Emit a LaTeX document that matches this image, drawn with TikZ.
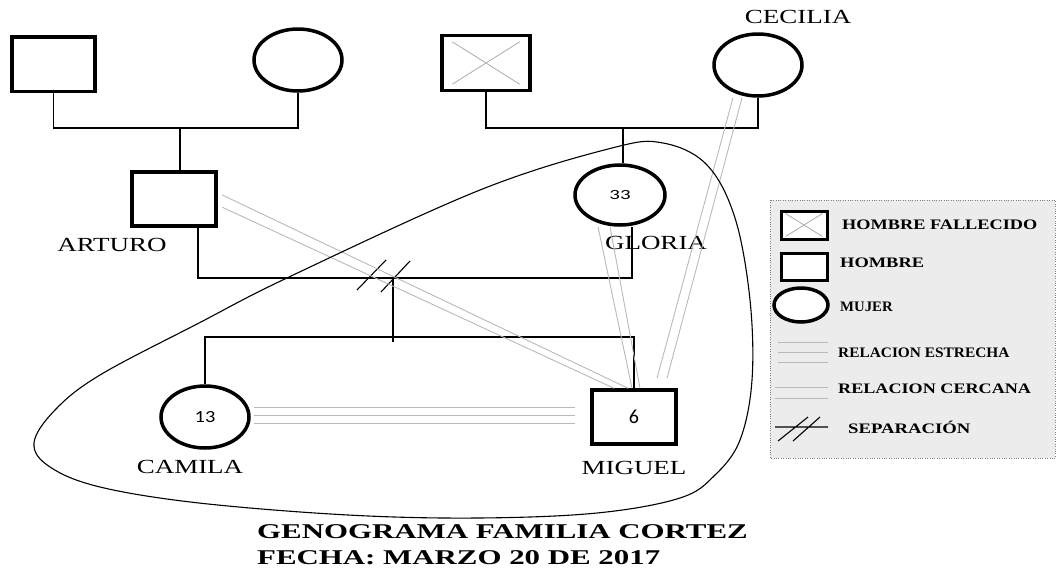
\documentclass[tikz,border=0pt]{standalone}
\usepackage{fontspec}
\usepackage{graphicx}
\setmainfont{Liberation Serif}
\newfontfamily\numfont{Carlito}
\usetikzlibrary{shapes.geometric}
\newcommand\ancho[2]{\scalebox{#1}[1]{#2}}
\begin{document}
\begin{tikzpicture}[x=1pt,y=-1pt,
		hombre/.style={draw,line width=3.5pt,minimum width=84pt,minimum height=54pt,inner sep=0pt},
		mujer/.style={draw,ellipse,line width=3.5pt,minimum width=88pt,minimum height=62pt,inner sep=0pt},
		union/.style={line width=1.1pt},
		rel/.style={gray!55,line width=0.9pt},
		nombre/.style={font=\fontsize{20}{20}\selectfont,inner sep=0pt},
		leyenda/.style={font=\fontsize{14.5}{14.5}\selectfont\bfseries,anchor=west,inner sep=0pt}]
			\useasboundingbox (0,0) rectangle (1058,573);
			% personas
			\node[hombre,minimum width=83pt,minimum height=54.5pt] (abuelo) at (53.5,64) {};
			\node[mujer] (abuela) at (298,60) {};
			\node[hombre,minimum width=88pt,minimum height=55pt] (bisabuelo) at (486,63) {};
			\node[mujer] (cecilia) at (758,65) {};
			\node[hombre] (arturo) at (174,199) {};
			\node[mujer,minimum width=90pt,minimum height=60pt] (gloria) at (620,195) {\numfont\fontsize{14}{14}\selectfont\ancho{1.5}{33}};
			\node[mujer] (camila) at (205,417) {\numfont\fontsize{17}{17}\selectfont\ancho{1.2}{13}};
			\node[hombre] (miguel) at (634,417) {\numfont\fontsize{20}{20}\selectfont 6};
			\draw[gray!60,line width=0.9pt] ([shift={(12pt,-8pt)}]bisabuelo.north west)--([shift={(-12pt,8pt)}]bisabuelo.south east)
				([shift={(12pt,8pt)}]bisabuelo.south west)--([shift={(-12pt,-8pt)}]bisabuelo.north east);
			% nombres
			\node[nombre] (n-arturo) at (112,245) {\ancho{1.35}{ARTURO}};
			\node[nombre] (n-gloria) at (656,243) {\ancho{1.35}{GLORIA}};
			\node[nombre] (n-cecilia) at (798,17) {\ancho{1.35}{CECILIA}};
			\node[nombre] (n-camila) at (190,467) {\ancho{1.35}{CAMILA}};
			\node[nombre] (n-miguel) at (634,468) {\ancho{1.35}{MIGUEL}};
			% uniones
			\coordinate (u1) at (180,128); \coordinate (u2) at (623,128);
			\coordinate (u3) at (198,278); \coordinate (u4) at (632,278); \coordinate (u6) at (393,278);
			\coordinate (h2) at (634,337);
			\draw[union] (abuelo.south) |- (u1) -| (abuela.south);
			\draw[union] (u1) -- (u1 |- arturo.north);
			\draw[union] (bisabuelo.south) |- (u2) -| (cecilia.south);
			\draw[union] (u2) -- (u2 |- gloria.north);
			\draw[union] (u3 |- arturo.south) -- (u3) -- (u4) -- (u4 |- gloria.south);
			\draw[union] (u6) -- ++(0,64);
			\draw[union] (camila.north) |- (h2) -- (miguel.north);
			\draw[union] (357,290)--(386,260) (381,292)--(410,261);
			% relaciones
			\draw[rel,shorten <=5pt] (arturo.8) -- ([xshift=-6pt]miguel.north);
			\draw[rel,shorten <=5pt] (arturo.-8) -- ([xshift=-20pt]miguel.north);
			\draw[rel] ([xshift=-22pt]gloria.south) -- ([xshift=-2pt]miguel.north);
			\draw[rel] ([xshift=-10pt]gloria.south) -- ([xshift=6pt]miguel.north);
			\draw[rel] ([xshift=-25pt]cecilia.south) -- ([xshift=23pt,yshift=10pt]miguel.north);
			\draw[rel] ([xshift=-16pt]cecilia.south) -- ([xshift=33pt,yshift=10pt]miguel.north);
			\foreach \d in {10pt,2pt,-6pt}
				\draw[rel,shorten <=3pt] ([yshift=\d]camila.east) -- ([xshift=-15pt,yshift=\d]miguel.west);
			% sistema
			\draw[line width=1.1pt] plot[smooth cycle,tension=0.6] coordinates{(289,277) (480,190) (612,148) (663,143) (707,165) (735,218) (750,300) (752,380) (740,440) (715,475) (680,498) (597,513) (478,518) (348,515) (199,503) (100,487) (50,467) (34,443) (55,410) (100,375) (199,323)};
			% leyenda
			\draw[dotted,gray,fill=gray!15] (770,200) rectangle (1055,458);
			\node[hombre,minimum width=46pt,minimum height=28pt,line width=3pt,fill=white] (l-fallecido) at (804,225) {};
			\draw[gray!60,line width=0.9pt] ([shift={(6pt,-4pt)}]l-fallecido.north west)--([shift={(-6pt,4pt)}]l-fallecido.south east)
				([shift={(6pt,4pt)}]l-fallecido.south west)--([shift={(-6pt,-4pt)}]l-fallecido.north east);
			\node[hombre,minimum width=46pt,minimum height=27pt,line width=3pt,fill=white] (l-hombre) at (804,266.5) {};
			\node[mujer,minimum width=54pt,minimum height=34pt,fill=white] (l-mujer) at (801,305) {};
			\foreach \y in {342,352,362} \draw[rel] (778,\y) -- (828,\y);
			\foreach \y in {387,398} \draw[rel] (775,\y) -- (828,\y);
			\draw[union] (775,427) -- (828,427) (778,441) -- (808,417) (793,441) -- (820,417);
			\node[leyenda] at (842,225) {\ancho{1.26}{HOMBRE FALLECIDO}};
			\node[leyenda] at (840,263) {\ancho{1.27}{HOMBRE}};
			\node[leyenda] at (840,307) {\ancho{1.02}{MUJER}};
			\node[leyenda] at (838,353) {\ancho{1.06}{RELACION ESTRECHA}};
			\node[leyenda] at (838,389) {\ancho{1.25}{RELACION CERCANA}};
			\node[leyenda] at (848,427) {\ancho{1.29}{SEPARACIÓN}};
			% titulo
			\node[anchor=west,inner sep=0pt,font=\fontsize{21}{21}\selectfont\bfseries] (titulo) at (257,532) {\ancho{1.47}{GENOGRAMA FAMILIA CORTEZ}};
			\node[anchor=west,inner sep=0pt,font=\fontsize{21}{21}\selectfont\bfseries] (fecha) at (257,558) {\ancho{1.47}{FECHA: MARZO 20 DE 2017}};
		\end{tikzpicture}
\end{document}
